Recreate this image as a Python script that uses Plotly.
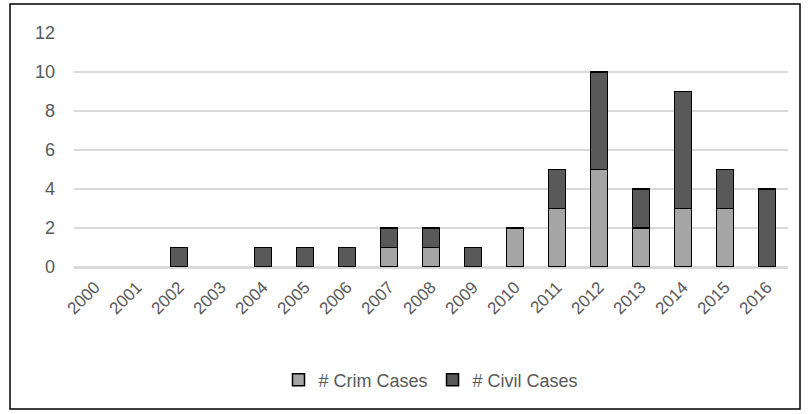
import plotly.graph_objects as go

years = [str(y) for y in range(2000, 2017)]
crim_cases = [0, 0, 0, 0, 0, 0, 0, 1, 1, 0, 2, 3, 5, 2, 3, 3, 0]
civil_cases = [0, 0, 1, 0, 1, 1, 1, 1, 1, 1, 0, 2, 5, 2, 6, 2, 4]

W, H = 809, 414
L, R, T, B = 74, 21, 33, 147
pw, ph = W - L - R, H - T - B

def px_x(p):
    return (p - L) / pw

def px_y(p):
    return (H - B - p) / ph

def hide_zero(vals):
    return [v if v else None for v in vals]

fig = go.Figure()
fig.add_trace(go.Bar(x=years, y=hide_zero(crim_cases), name="# Crim Cases",
                     marker=dict(color="#a5a5a5", line=dict(color="#000000", width=1.5))))
fig.add_trace(go.Bar(x=years, y=hide_zero(civil_cases), name="# Civil Cases",
                     marker=dict(color="#595959", line=dict(color="#000000", width=1.5))))

fig.update_layout(
    width=W, height=H,
    margin=dict(l=L, r=R, t=T, b=B),
    barmode="stack", bargap=0.6,
    paper_bgcolor="white", plot_bgcolor="white",
    font=dict(family="Liberation Sans, Arial, sans-serif", size=17, color="#595959"),
    showlegend=True,
    legend=dict(orientation="h", x=0.5, xanchor="center", y=px_y(380), yanchor="middle",
                font=dict(size=18, color="#595959"), traceorder="normal", itemwidth=30),
    xaxis=dict(type="category", tickangle=-45, showgrid=False, showline=False,
               ticks="", ticklabelstandoff=6, tickfont=dict(size=17, color="#595959")),
    yaxis=dict(range=[0, 12], dtick=2, showgrid=True, gridcolor="#d9d9d9", gridwidth=1.5,
               zeroline=True, zerolinecolor="#d9d9d9", zerolinewidth=2.5,
               showline=False, ticks="", ticklabelstandoff=18,
               tickfont=dict(size=18, color="#595959")),
    shapes=[dict(type="rect", xref="paper", yref="paper",
                 x0=px_x(10), x1=px_x(800), y0=px_y(409), y1=px_y(4),
                 line=dict(color="#000000", width=1.5), fillcolor="rgba(0,0,0,0)", layer="below")],
)

fig.write_html("out.html", config={"displayModeBar": False},
               post_script="document.body.style.margin='0px';")
